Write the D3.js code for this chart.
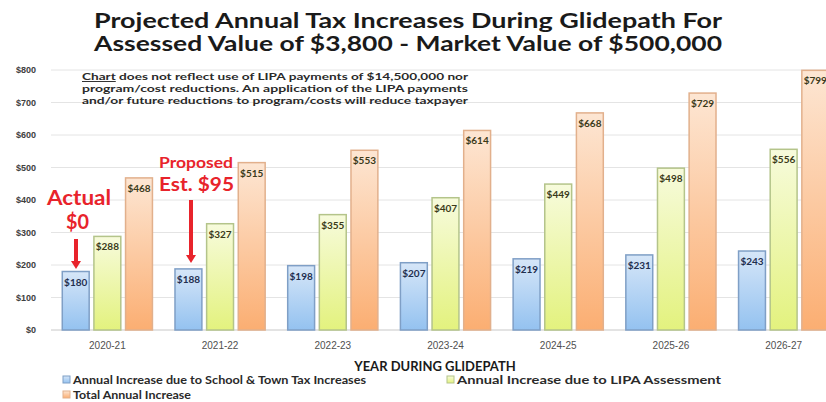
<!DOCTYPE html>
<html>
<head>
<meta charset="utf-8">
<script src="https://cdn.jsdelivr.net/npm/d3@7"></script>
<style>
  body { margin: 0; background: #fff; }
  svg { display: block; font-family: Lato, 'Open Sans', sans-serif; }
</style>
</head>
<body>
<div id="chart"></div>
<script>
const years = ['2020-21', '2021-22', '2022-23', '2023-24', '2024-25', '2025-26', '2026-27']
const seriesNames = [
  'Annual Increase due to School & Town Tax Increases',
  'Annual Increase due to LIPA Assessment',
  'Total Annual Increase',
]
const schoolTown = [180, 188, 198, 207, 219, 231, 243]
const lipa = [288, 327, 355, 407, 449, 498, 556]
const total = [468, 515, 553, 614, 668, 729, 799]
const yTicks = [0, 100, 200, 300, 400, 500, 600, 700, 800]
const titleLines = [
  'Projected Annual  Tax Increases During Glidepath  For',
  'Assessed Value of $3,800 - Market Value of $500,000',
]
const noteLines = [
  'does not reflect use of LIPA payments of $14,500,000   nor',
  'program/cost reductions.  An application of the LIPA payments',
  'and/or future reductions to program/costs will reduce taxpayer',
]

const width = 826
const height = 402
const marginLeft = 51
const plotRight = 840
const plotTop = 70
const plotBottom = 330

const svg = d3
  .select('#chart')
  .append('svg')
  .attr('width', width)
  .attr('height', height)

// gradients for each series
const fills = [
  { id: 'g-blue', top: '#d6e6f8', bottom: '#94c2f0', stroke: '#7f9fc6' },
  { id: 'g-green', top: '#f7fbdc', bottom: '#e3f27e', stroke: '#b4c48a' },
  { id: 'g-orange', top: '#fde6d3', bottom: '#fbae72', stroke: '#e2b08c' },
]
const defs = svg.append('defs')
fills.forEach(f => {
  const g = defs
    .append('linearGradient')
    .attr('id', f.id)
    .attr('x1', 0).attr('y1', 0)
    .attr('x2', 0).attr('y2', 1)
  g.append('stop').attr('offset', '0%').attr('stop-color', f.top)
  g.append('stop').attr('offset', '100%').attr('stop-color', f.bottom)
})

const x0 = d3
  .scaleBand()
  .domain(years)
  .range([marginLeft, plotRight])
  .paddingInner(0.2)
  .paddingOuter(0.1)

const x1 = d3
  .scaleBand()
  .domain(d3.range(3))
  .range([0, x0.bandwidth()])
  .paddingInner(0.15)

const y = d3.scaleLinear().domain([0, 800]).range([plotBottom, plotTop])

// gridlines
svg
  .append('g')
  .selectAll('line')
  .data(yTicks)
  .join('line')
  .attr('x1', marginLeft)
  .attr('x2', width)
  .attr('y1', d => y(d))
  .attr('y2', d => y(d))
  .attr('stroke', d => (d === 0 ? '#c8c8c8' : '#e4e4e4'))
  .attr('stroke-width', 1)

// y axis labels
const yAxis = svg
  .append('g')
  .attr('transform', `translate(${marginLeft - 12},0)`)
  .call(d3.axisLeft(y).tickValues(yTicks).tickSize(0).tickFormat(d => `$${d}`))
yAxis.select('.domain').remove()
yAxis
  .selectAll('text')
  .attr('font-size', 9)
  .attr('font-weight', 700)
  .attr('fill', '#404040')

// x axis labels
const xAxis = svg
  .append('g')
  .attr('transform', `translate(0,${plotBottom + 9})`)
  .call(d3.axisBottom(x0).tickSize(0))
xAxis.select('.domain').remove()
xAxis
  .selectAll('text')
  .attr('font-size', 10)
  .attr('fill', '#505050')

// bars
const series = [schoolTown, lipa, total]
const groups = svg
  .append('g')
  .selectAll('g')
  .data(years)
  .join('g')
  .attr('transform', d => `translate(${x0(d)},0)`)

groups
  .selectAll('rect')
  .data((d, i) => series.map((s, k) => ({ k, v: s[i] })))
  .join('rect')
  .attr('x', d => x1(d.k))
  .attr('width', x1.bandwidth())
  .attr('y', d => y(d.v))
  .attr('height', d => y(0) - y(d.v))
  .attr('fill', d => `url(#${fills[d.k].id})`)
  .attr('stroke', d => fills[d.k].stroke)
  .attr('stroke-width', 1.5)

groups
  .selectAll('text')
  .data((d, i) => series.map((s, k) => ({ k, v: s[i] })))
  .join('text')
  .attr('x', d => x1(d.k) + x1.bandwidth() / 2)
  .attr('y', d => y(d.v) + 14)
  .attr('text-anchor', 'middle')
  .attr('font-size', 10)
  .attr('font-weight', 700)
  .attr('fill', d => (d.k === 0 ? '#1f2f4f' : '#3a3a1a'))
  .text(d => `$${d.v}`)

// title
svg
  .append('g')
  .selectAll('text')
  .data(titleLines)
  .join('text')
  .attr('x', 408)
  .attr('y', (d, i) => 28 + i * 23)
  .attr('text-anchor', 'middle')
  .attr('font-size', 20)
  .attr('font-weight', 700)
  .attr('fill', '#1a1a1a')
  .attr('textLength', 628)
  .attr('lengthAdjust', 'spacingAndGlyphs')
  .text(d => d)

// note
const note = svg.append('g').attr('font-size', 9.5).attr('font-weight', 700).attr('fill', '#2a2a2a')
note
  .append('text')
  .attr('x', 82)
  .attr('y', 80)
  .attr('textLength', 386)
  .attr('lengthAdjust', 'spacingAndGlyphs')
  .html(`<tspan text-decoration="underline">Chart</tspan> ${noteLines[0]}`)
note
  .selectAll('text.l')
  .data(noteLines.slice(1))
  .join('text')
  .attr('class', 'l')
  .attr('x', 82)
  .attr('y', (d, i) => 91.8 + i * 11.8)
  .attr('textLength', 386)
  .attr('lengthAdjust', 'spacingAndGlyphs')
  .text(d => d)

// red call-outs
const red = '#e8232b'
const callouts = [
  { text: 'Actual', x: 47, y: 205, size: 21, len: 64 },
  { text: '$0', x: 66, y: 229, size: 21, len: 23 },
  { text: 'Proposed', x: 159, y: 168, size: 16, len: 74 },
  { text: 'Est. $95', x: 159, y: 191, size: 19, len: 75 },
]
svg
  .append('g')
  .selectAll('text')
  .data(callouts)
  .join('text')
  .attr('x', d => d.x)
  .attr('y', d => d.y)
  .attr('font-size', d => d.size)
  .attr('font-weight', 700)
  .attr('fill', red)
  .attr('textLength', d => d.len)
  .attr('lengthAdjust', 'spacingAndGlyphs')
  .text(d => d.text)

const arrows = [
  { x: 76, y1: 239, y2: 269 },
  { x: 191, y1: 200, y2: 263 },
]
const arrowG = svg.append('g').selectAll('g').data(arrows).join('g')
arrowG
  .append('line')
  .attr('x1', d => d.x).attr('x2', d => d.x)
  .attr('y1', d => d.y1).attr('y2', d => d.y2 - 6)
  .attr('stroke', red)
  .attr('stroke-width', 4)
arrowG
  .append('path')
  .attr('d', d => `M${d.x - 5},${d.y2 - 8} L${d.x + 5},${d.y2 - 8} L${d.x},${d.y2} Z`)
  .attr('fill', red)

// axis title
svg
  .append('text')
  .attr('x', 435)
  .attr('y', 371)
  .attr('text-anchor', 'middle')
  .attr('font-size', 13)
  .attr('font-weight', 700)
  .attr('fill', '#1a1a1a')
  .text('YEAR DURING GLIDEPATH')

// legend
const legendItems = [
  { k: 0, x: 63, y: 380, len: 293 },
  { k: 1, x: 447, y: 380, len: 264 },
  { k: 2, x: 63, y: 395, len: 118 },
]
const legend = svg.append('g')
legendItems.forEach(item => {
  legend
    .append('rect')
    .attr('x', item.x)
    .attr('y', item.y - 4)
    .attr('width', 7)
    .attr('height', 7)
    .attr('fill', `url(#${fills[item.k].id})`)
    .attr('stroke', fills[item.k].stroke)
  legend
    .append('text')
    .attr('x', item.x + 10)
    .attr('y', item.y + 4)
    .attr('font-size', 11)
    .attr('font-weight', 700)
    .attr('fill', '#2a2a2a')
    .attr('textLength', item.len)
    .attr('lengthAdjust', 'spacingAndGlyphs')
    .text(seriesNames[item.k])
})
</script>
</body>
</html>
